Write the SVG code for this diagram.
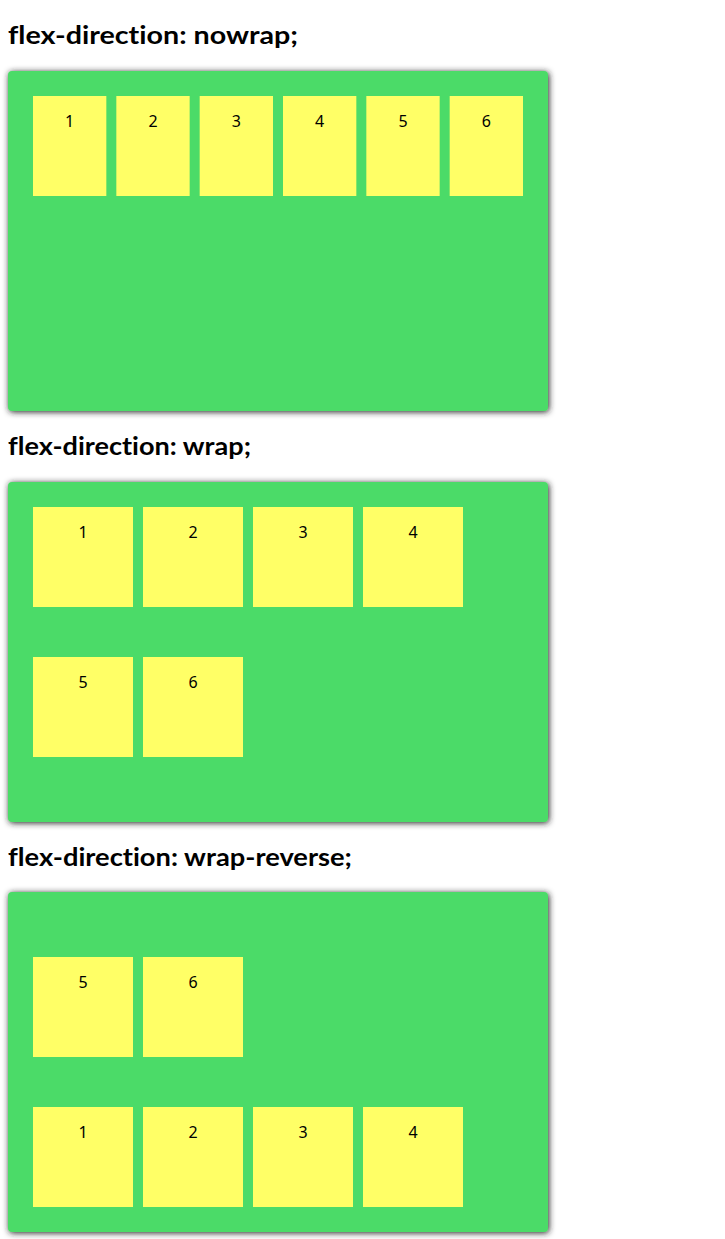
<svg xmlns="http://www.w3.org/2000/svg" width="725" height="1239" viewBox="0 0 725 1239">
<defs>
<filter id="sh" x="-5%" y="-5%" width="110%" height="110%">
<feGaussianBlur in="SourceAlpha" stdDeviation="3"/>
<feOffset dx="1" dy="1" result="b"/>
<feFlood flood-color="#222"/>
<feComposite in2="b" operator="in"/>
<feMerge><feMergeNode/><feMergeNode in="SourceGraphic"/></feMerge>
</filter>
</defs>
<style>
.h{font-family:Lato,"Noto Sans","Liberation Sans",sans-serif;font-weight:bold;font-size:24px;fill:#000;font-variant-ligatures:none;font-feature-settings:"liga" 0}
.box{fill:#4cdb67;filter:url(#sh)}
.it{fill:#ffff66}
.n{font-family:"Noto Sans","Open Sans","Liberation Sans",sans-serif;font-size:16px;fill:#000;text-anchor:middle}
</style>
<rect width="725" height="1239" fill="#fff"/>
<g id="section1">
<text class="h" x="8" y="44" textLength="290" lengthAdjust="spacingAndGlyphs">flex-direction: nowrap;</text>
<rect class="box" x="8" y="71" width="540" height="340" rx="4"/>
<g id="n1-1"><rect class="it" x="33" y="96" width="73.33" height="100"/><text class="n" x="69.67" y="127">1</text></g>
<g id="n1-2"><rect class="it" x="116.33" y="96" width="73.33" height="100"/><text class="n" x="153" y="127">2</text></g>
<g id="n1-3"><rect class="it" x="199.67" y="96" width="73.33" height="100"/><text class="n" x="236.33" y="127">3</text></g>
<g id="n1-4"><rect class="it" x="283" y="96" width="73.33" height="100"/><text class="n" x="319.67" y="127">4</text></g>
<g id="n1-5"><rect class="it" x="366.33" y="96" width="73.33" height="100"/><text class="n" x="403" y="127">5</text></g>
<g id="n1-6"><rect class="it" x="449.67" y="96" width="73.33" height="100"/><text class="n" x="486.33" y="127">6</text></g>
</g>
<g id="section2">
<text class="h" x="8" y="455" textLength="243" lengthAdjust="spacingAndGlyphs">flex-direction: wrap;</text>
<rect class="box" x="8" y="482" width="540" height="340" rx="4"/>
<g id="n2-1"><rect class="it" x="33" y="507" width="100" height="100"/><text class="n" x="83" y="538">1</text></g>
<g id="n2-2"><rect class="it" x="143" y="507" width="100" height="100"/><text class="n" x="193" y="538">2</text></g>
<g id="n2-3"><rect class="it" x="253" y="507" width="100" height="100"/><text class="n" x="303" y="538">3</text></g>
<g id="n2-4"><rect class="it" x="363" y="507" width="100" height="100"/><text class="n" x="413" y="538">4</text></g>
<g id="n2-5"><rect class="it" x="33" y="657" width="100" height="100"/><text class="n" x="83" y="688">5</text></g>
<g id="n2-6"><rect class="it" x="143" y="657" width="100" height="100"/><text class="n" x="193" y="688">6</text></g>
</g>
<g id="section3">
<text class="h" x="8" y="866" textLength="344" lengthAdjust="spacingAndGlyphs">flex-direction: wrap-reverse;</text>
<rect class="box" x="8" y="892" width="540" height="340" rx="4"/>
<g id="n3-5"><rect class="it" x="33" y="957" width="100" height="100"/><text class="n" x="83" y="988">5</text></g>
<g id="n3-6"><rect class="it" x="143" y="957" width="100" height="100"/><text class="n" x="193" y="988">6</text></g>
<g id="n3-1"><rect class="it" x="33" y="1107" width="100" height="100"/><text class="n" x="83" y="1138">1</text></g>
<g id="n3-2"><rect class="it" x="143" y="1107" width="100" height="100"/><text class="n" x="193" y="1138">2</text></g>
<g id="n3-3"><rect class="it" x="253" y="1107" width="100" height="100"/><text class="n" x="303" y="1138">3</text></g>
<g id="n3-4"><rect class="it" x="363" y="1107" width="100" height="100"/><text class="n" x="413" y="1138">4</text></g>
</g>
<g id="connectors"/>
</svg>
